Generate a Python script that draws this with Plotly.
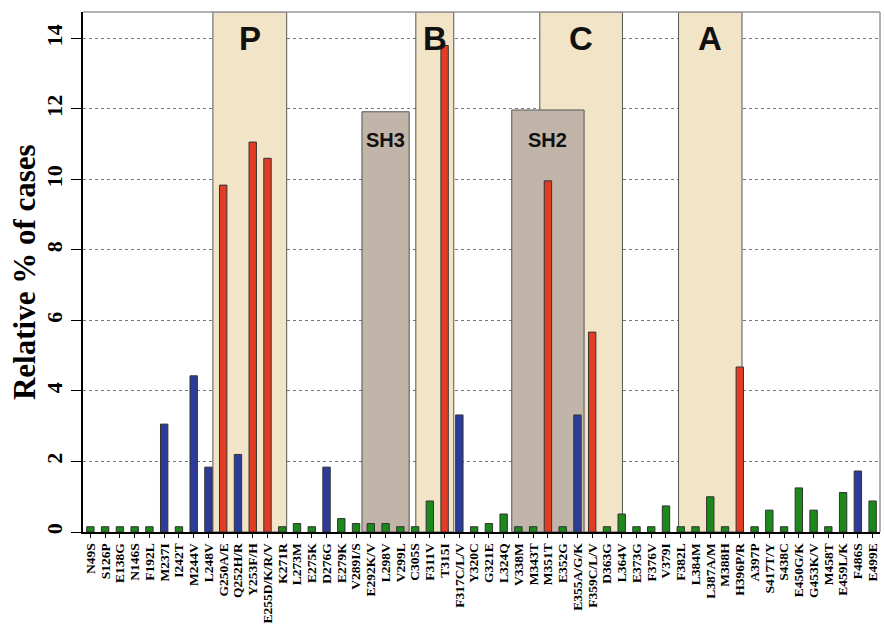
import plotly.graph_objects as go

mutations = ["N49S", "S126P", "E138G", "N146S", "F192L", "M237I", "I242T", "M244V", "L248V",
             "G250A/E", "Q252H/R", "Y253F/H", "E255D/K/R/V", "K271R", "L273M", "E275K", "D276G",
             "E279K", "V289I/S", "E292K/V", "L298V", "V299L", "C305S", "F311V", "T315I",
             "F317C/L/V", "Y320C", "G321E", "L324Q", "V338M", "M343T", "M351T", "E352G",
             "E355A/G/K", "F359C/L/V", "D363G", "L364V", "E373G", "F376V", "V379I", "F382L",
             "L384M", "L387A/M", "M388H", "H396P/R", "A397P", "S417T/Y", "S438C", "E450G/K",
             "G453K/V", "M458T", "E459L/K", "F486S", "E499E"]

relative_pct = [0.15, 0.15, 0.15, 0.15, 0.15, 3.06, 0.15, 4.43, 1.84,
                9.84, 2.2, 11.06, 10.6, 0.15, 0.24, 0.15, 1.84,
                0.38, 0.24, 0.24, 0.24, 0.15, 0.15, 0.88, 13.8,
                3.32, 0.15, 0.24, 0.51, 0.15, 0.15, 9.96, 0.15,
                3.32, 5.67, 0.15, 0.51, 0.15, 0.15, 0.74, 0.15,
                0.15, 1.0, 0.15, 4.68, 0.15, 0.62, 0.15, 1.25,
                0.62, 0.15, 1.12, 1.73, 0.88]

groups = ["g", "g", "g", "g", "g", "b", "g", "b", "b",
          "r", "b", "r", "r", "g", "g", "g", "b",
          "g", "g", "g", "g", "g", "g", "g", "r",
          "b", "g", "g", "g", "g", "g", "r", "g",
          "b", "r", "g", "g", "g", "g", "g", "g",
          "g", "g", "g", "r", "g", "g", "g", "g",
          "g", "g", "g", "b", "g"]

# domain regions (label, start position, end position, top value, kind)
domains = [("P", 8.3, 13.3, 14.75, "kinase"),
           ("SH3", 18.4, 21.6, 11.92, "sh"),
           ("B", 22.05, 24.62, 14.75, "kinase"),
           ("C", 30.45, 36.05, 14.75, "kinase"),
           ("SH2", 28.55, 33.45, 11.97, "sh"),
           ("A", 39.85, 44.15, 14.75, "kinase")]

color_map = {"g": "#1b8a1b", "b": "#2d3c9b", "r": "#e23d24"}
fill_map = {"kinase": "#f2e4c6", "sh": "#c1b4a8"}

fig = go.Figure()
fig.add_trace(go.Bar(
    x=list(range(len(mutations))), y=relative_pct,
    marker=dict(color=[color_map[g] for g in groups],
                line=dict(color="#333333", width=1)),
    width=0.5,
))

for label, x0, x1, top, kind in domains:
    fig.add_shape(type="rect", x0=x0, x1=x1, y0=0, y1=top, xref="x", yref="y",
                  fillcolor=fill_map[kind], line=dict(color="#555555", width=1),
                  layer="between")
    if kind == "kinase":
        fig.add_annotation(x=(x0 + x1) / 2, y=14.0, text=label, showarrow=False,
                           font=dict(family="Liberation Sans", size=33, color="#111111", weight="bold"))
    else:
        fig.add_annotation(x=(x0 + x1) / 2, y=11.12, text=label, showarrow=False,
                           font=dict(family="Liberation Sans", size=20, color="#111111", weight="bold"))

fig.add_shape(type="line", xref="paper", yref="paper", x0=0, x1=1, y0=1, y1=1,
              line=dict(color="#999999", width=1.5))
fig.add_shape(type="line", xref="paper", yref="paper", x0=1, x1=1, y0=0, y1=1,
              line=dict(color="#999999", width=1.5))

fig.add_annotation(xref="paper", yref="paper", x=-0.074, y=0.5, xanchor="center", yanchor="middle",
                   text="Relative % of cases", textangle=-90, showarrow=False,
                   font=dict(family="Liberation Serif", size=31, color="black", weight="bold"))

fig.update_layout(
    width=884, height=626,
    margin=dict(l=83, r=4, t=12, b=94),
    plot_bgcolor="white", paper_bgcolor="white",
    showlegend=False,
    xaxis=dict(
        tickmode="array", tickvals=list(range(len(mutations))), ticktext=mutations,
        tickangle=-90, tickfont=dict(family="Liberation Serif", size=13.5, color="black", weight="bold"),
        range=[-0.5, len(mutations) - 0.5], automargin=False,
        showline=True, linecolor="black", linewidth=1.5,
        ticks="outside", ticklen=4, tickcolor="black", tickson="boundaries",
        showgrid=False, zeroline=False,
    ),
    yaxis=dict(
        range=[0, 14.75], tickvals=[0, 2, 4, 6, 8, 10, 12, 14], automargin=False,
        tickangle=-90, tickfont=dict(family="Liberation Serif", size=22, color="black", weight="bold"),
        showline=True, linecolor="black", linewidth=1.5,
        ticks="outside", ticklen=10, tickcolor="black",
        showgrid=True, gridcolor="#777777", griddash="dot", gridwidth=1,
        zeroline=False,
    ),
)

fig.write_html("out.html", config={"displayModeBar": False},
               post_script="document.body.style.margin='0px';document.body.style.overflow='hidden';")
